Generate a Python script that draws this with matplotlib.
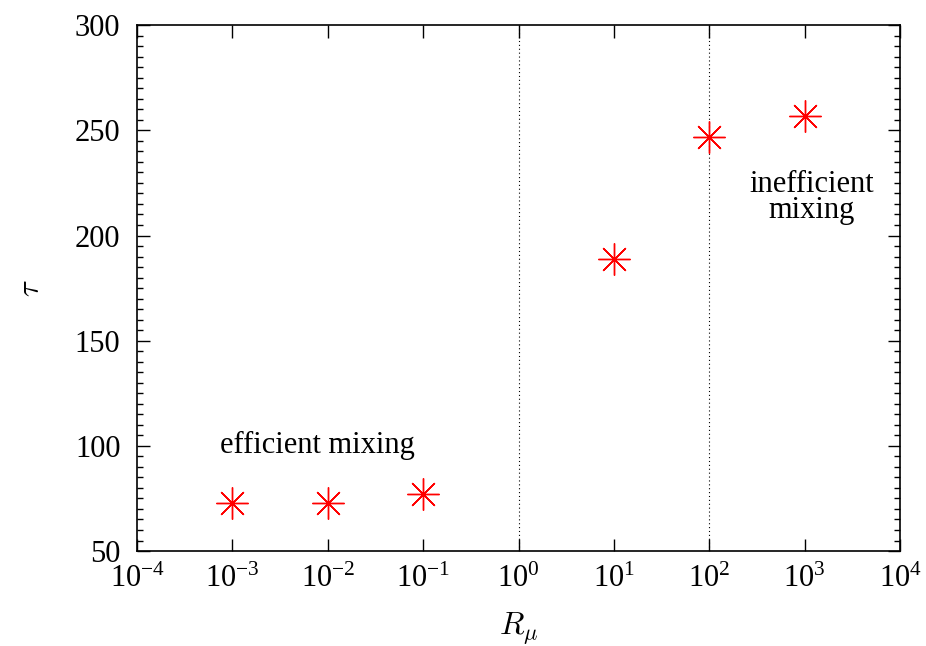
import matplotlib.pyplot as plt
from matplotlib.ticker import LogLocator, MultipleLocator, NullLocator

plt.rcParams['font.family'] = ['Liberation Serif', 'DejaVu Serif']
plt.rcParams['mathtext.fontset'] = 'cm'

# data
R_mu = [1e-3, 1e-2, 1e-1, 1e1, 1e2, 1e3]
tau = [72.8, 72.8, 77.1, 188.8, 247.0, 256.7]
vlines_x = [1, 100]

fig = plt.figure(figsize=(9.26, 6.46), dpi=100)
ax = fig.add_axes([0.148, 0.147, 0.824, 0.814])

for xv in vlines_x:
    ax.axvline(xv, color='black', lw=0.8, ls=(0, (1, 2.5)))

ax.plot(R_mu, tau, ls='none', marker=(8, 2, 0), markersize=23,
        markeredgewidth=1.0, color='red')

ax.set_xscale('log')
ax.set_xlim(1e-4, 1e4)
ax.set_ylim(50, 300)
ax.xaxis.set_major_locator(LogLocator(base=10, numticks=20))
ax.xaxis.set_minor_locator(NullLocator())
ax.yaxis.set_major_locator(MultipleLocator(50))
ax.yaxis.set_minor_locator(MultipleLocator(5))

ax.tick_params(which='both', direction='in', top=True, right=True,
               labelsize=22, width=1)
ax.tick_params(which='major', length=9)
ax.tick_params(which='minor', length=4.5)
ax.tick_params(axis='x', which='major', pad=10)
ax.tick_params(axis='y', which='major', pad=12)
for sp in ax.spines.values():
    sp.set_linewidth(1.2)

ax.set_xlabel(r'$R_\mu$', fontsize=23, labelpad=12)
ax.set_ylabel(r'$\tau$', fontsize=22, labelpad=21, rotation=90)

ax.text(0.0078, 100, 'efficient mixing', fontsize=22, ha='center', va='center')
ax.text(1190, 218, 'inefficient\nmixing', fontsize=22, ha='center', va='center',
        linespacing=0.85)

fig.savefig('out.png', dpi=100)
